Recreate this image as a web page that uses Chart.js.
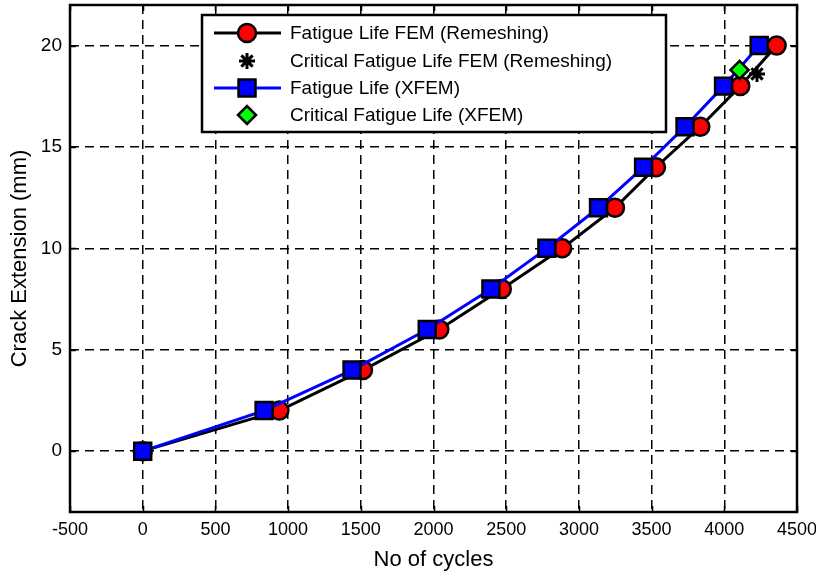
<!DOCTYPE html>
<html>
<head>
<meta charset="utf-8">
<script src="https://cdn.jsdelivr.net/npm/chart.js@4.4.0/dist/chart.umd.min.js"></script>
<style>
  html, body { margin: 0; padding: 0; background: #fff; }
  #wrap { width: 816px; height: 573px; }
</style>
</head>
<body>
<div id="wrap"><canvas id="grafica"></canvas></div>
<script>
// crack extension (mm) at each step
const crackExt = [0, 2, 4, 6, 8, 10, 12, 14, 16, 18, 20];
// cycles
const cyclesFEM = [0, 940, 1515, 2040, 2470, 2885, 3248, 3530, 3835, 4110, 4360];
const cyclesXFEM = [0, 835, 1440, 1957, 2395, 2780, 3135, 3445, 3730, 3995, 4240];
const criticalFEM = [4225, 18.6];
const criticalXFEM = [4105, 18.8];
const xTicks = [-500, 0, 500, 1000, 1500, 2000, 2500, 3000, 3500, 4000, 4500];
const yTicks = [0, 5, 10, 15, 20];

const labels = [
  "Fatigue Life FEM (Remeshing)",
  "Critical Fatigue Life FEM (Remeshing)",
  "Fatigue Life (XFEM)",
  "Critical Fatigue Life (XFEM)",
];

const toPoints = (xs, ys) => xs.map((x, i) => ({ x: x, y: ys[i] }));

const fuente = "'Liberation Sans', Arial, sans-serif";

// marco, marcas interiores y leyenda estilo matlab
const marcoPlugin = {
  id: "marco",
  afterDatasetsDraw(chart) {
    const { ctx, chartArea: a, scales } = chart;
    ctx.save();
    ctx.strokeStyle = "#000";
    ctx.lineWidth = 1.5;
    ctx.beginPath();
    xTicks.forEach((t) => {
      const px = Math.round(scales.x.getPixelForValue(t)) + 0.5;
      ctx.moveTo(px, a.top); ctx.lineTo(px, a.top + 6);
      ctx.moveTo(px, a.bottom); ctx.lineTo(px, a.bottom - 6);
    });
    yTicks.forEach((t) => {
      const py = Math.round(scales.y.getPixelForValue(t)) + 0.5;
      ctx.moveTo(a.left, py); ctx.lineTo(a.left + 6, py);
      ctx.moveTo(a.right, py); ctx.lineTo(a.right - 6, py);
    });
    ctx.stroke();
    ctx.lineWidth = 2.5;
    ctx.strokeRect(a.left, a.top, a.right - a.left, a.bottom - a.top);
    ctx.restore();
  },
  afterDraw(chart) {
    const { ctx } = chart;
    const bx = 202, by = 15, bw = 464, bh = 117;
    ctx.save();
    ctx.fillStyle = "#fff";
    ctx.fillRect(bx, by, bw, bh);
    ctx.strokeStyle = "#000";
    ctx.lineWidth = 2.5;
    ctx.strokeRect(bx, by, bw, bh);
    const rows = [33, 61, 88, 115];
    chart.data.datasets.forEach((ds, i) => {
      const y = rows[i];
      if (ds.showLine !== false) {
        ctx.strokeStyle = ds.borderColor;
        ctx.lineWidth = ds.borderWidth;
        ctx.beginPath();
        ctx.moveTo(214, y); ctx.lineTo(281, y);
        ctx.stroke();
      }
      ctx.fillStyle = ds.pointBackgroundColor;
      ctx.strokeStyle = ds.pointBorderColor;
      ctx.lineWidth = ds.pointBorderWidth;
      Chart.helpers.drawPoint(ctx, {
        pointStyle: ds.pointStyle,
        radius: ds.pointRadius,
        rotation: 0,
        borderWidth: ds.pointBorderWidth,
      }, 247, y);
      ctx.fillStyle = "#000";
      ctx.font = "19px " + fuente;
      ctx.textBaseline = "middle";
      ctx.textAlign = "left";
      ctx.fillText(ds.label, 290, y + 1);
    });
    ctx.restore();
  },
};

new Chart(document.getElementById("grafica"), {
  type: "scatter",
  data: {
    datasets: [
      {
        label: labels[0],
        data: toPoints(cyclesFEM, crackExt),
        showLine: true,
        borderColor: "#000",
        borderWidth: 3,
        pointStyle: "circle",
        pointRadius: 9,
        pointHoverRadius: 9,
        pointBackgroundColor: "#ff0000",
        pointBorderColor: "#000",
        pointBorderWidth: 2.5,
        order: 3,
      },
      {
        label: labels[1],
        data: [{ x: criticalFEM[0], y: criticalFEM[1] }],
        showLine: false,
        borderColor: "#000",
        pointStyle: "star",
        pointRadius: 8,
        pointBackgroundColor: "#000",
        pointBorderColor: "#000",
        pointBorderWidth: 3,
        order: 1,
      },
      {
        label: labels[2],
        data: toPoints(cyclesXFEM, crackExt),
        showLine: true,
        borderColor: "#0000ff",
        borderWidth: 3,
        pointStyle: "rect",
        pointRadius: 12,
        pointHoverRadius: 12,
        pointBackgroundColor: "#0000ff",
        pointBorderColor: "#000",
        pointBorderWidth: 2.5,
        order: 2,
      },
      {
        label: labels[3],
        data: [{ x: criticalXFEM[0], y: criticalXFEM[1] }],
        showLine: false,
        borderColor: "#000",
        pointStyle: "rectRot",
        pointRadius: 9,
        pointBackgroundColor: "#00ff00",
        pointBorderColor: "#000",
        pointBorderWidth: 2.5,
        order: 0,
      },
    ],
  },
  options: {
    responsive: true,
    maintainAspectRatio: false,
    animation: false,
    clip: false,
    layout: { autoPadding: false, padding: { top: 5, right: 19, left: 0, bottom: 0 } },
    plugins: {
      legend: { display: false },
      tooltip: { enabled: false },
    },
    scales: {
      x: {
        type: "linear",
        min: -500,
        max: 4500,
        afterBuildTicks: (s) => { s.ticks = xTicks.map((v) => ({ value: v })); },
        afterFit: (s) => {
          s.height = 61;
          s.paddingLeft = 0;
          s.paddingRight = 0;
        },
        ticks: {
          color: "#000",
          padding: 7,
          maxRotation: 0,
          callback: (v) => String(v),
          font: { size: 18, family: fuente },
        },
        grid: { color: "#000", lineWidth: 1.5, drawTicks: false },
        border: { display: false, dash: [9, 6] },
        title: {
          display: true,
          text: "No of cycles",
          color: "#000",
          padding: { top: 0, bottom: 0 },
          font: { size: 22, family: fuente },
        },
      },
      y: {
        type: "linear",
        min: -3,
        max: 22,
        afterBuildTicks: (s) => { s.ticks = yTicks.map((v) => ({ value: v })); },
        afterFit: (s) => {
          s.width = 70;
          s.paddingTop = 0;
          s.paddingBottom = 0;
        },
        ticks: {
          color: "#000",
          padding: 8,
          callback: (v) => String(v),
          font: { size: 19, family: fuente },
        },
        grid: { color: "#000", lineWidth: 1.5, drawTicks: false },
        border: { display: false, dash: [9, 6] },
        title: {
          display: true,
          text: "Crack Extension (mm)",
          color: "#000",
          padding: { top: 7, bottom: 0 },
          font: { size: 22, family: fuente },
        },
      },
    },
  },
  plugins: [marcoPlugin],
});
</script>
</body>
</html>
